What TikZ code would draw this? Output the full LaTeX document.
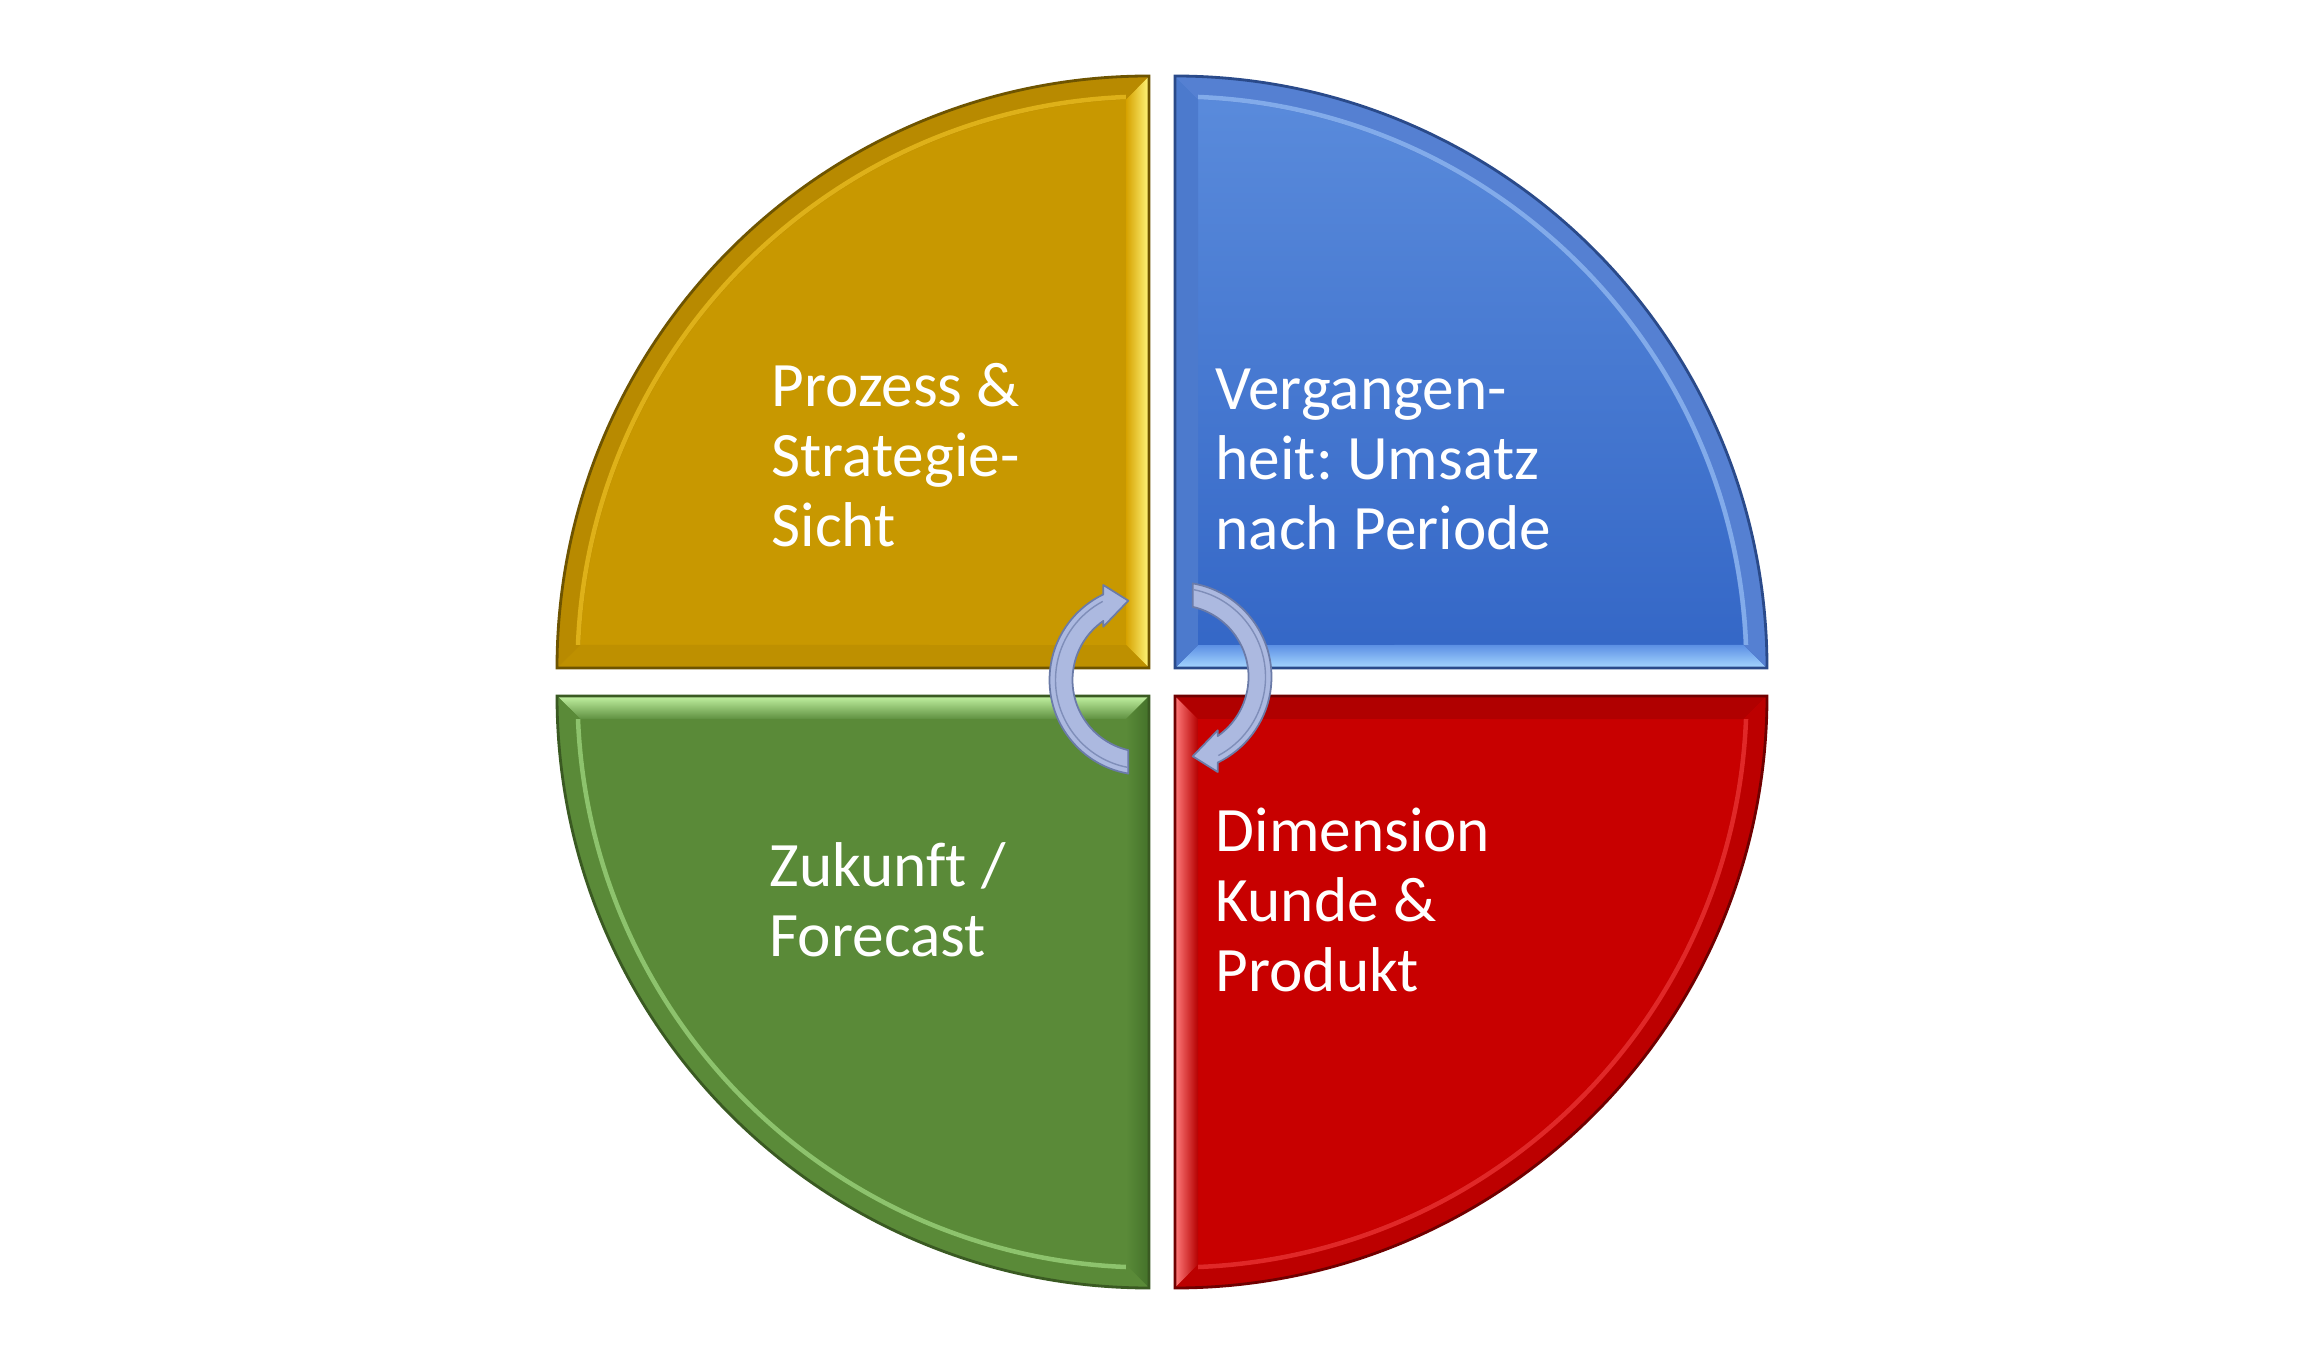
\documentclass[tikz,border=0pt]{standalone}
\usepackage{fontspec}
\setmainfont{Carlito}[Ligatures=NoCommon]
\usepackage{xcolor}
\usepackage{tikz}
\frenchspacing

\definecolor{yelFace}{HTML}{C89800}
\definecolor{bluTop}{HTML}{5B8CDC}
\definecolor{bluBot}{HTML}{3366C6}
\definecolor{redFace}{HTML}{C80000}
\definecolor{grnFace}{HTML}{5A8A38}
\definecolor{cycFill}{HTML}{ACB9E0}
\definecolor{cycLine}{HTML}{6B7BA8}

% quarter discs: radius, bevel, inner radius, mitre angle, inner corner
\newcommand\qR{5.92}
\newcommand\qr{5.69}
\newcommand\qh{5.715}
\newcommand\qd{2.32}
\newcommand\qc{0.325}

\tikzstyle{yelface}=[fill=yelFace]
\tikzstyle{yeledgeA}=[left color={rgb,255:red,214;green,162;blue,0}, right color={rgb,255:red,255;green,245;blue,122}]
\tikzstyle{yeledgeB}=[fill={rgb,255:red,190;green,144;blue,0}]
\tikzstyle{yelarc}=[fill={rgb,255:red,184;green,138;blue,0}]
\tikzstyle{yelrim}=[draw={rgb,255:red,255;green,210;blue,46}, line width=.045cm, opacity=.55]
\tikzstyle{yelline}=[draw={rgb,255:red,110;green,84;blue,0}, line width=.8pt]

\tikzstyle{bluface}=[top color=bluTop, bottom color=bluBot]
\tikzstyle{bluedgeA}=[top color={rgb,255:red,92;green,144;blue,228}, bottom color={rgb,255:red,166;green,214;blue,255}]
\tikzstyle{bluedgeB}=[fill={rgb,255:red,76;green,122;blue,205}]
\tikzstyle{bluarc}=[fill={rgb,255:red,85;green,128;blue,210}]
\tikzstyle{blurim}=[draw={rgb,255:red,168;green,208;blue,255}, line width=.045cm, opacity=.55]
\tikzstyle{bluline}=[draw={rgb,255:red,42;green,74;blue,138}, line width=.8pt]

\tikzstyle{redface}=[fill=redFace]
\tikzstyle{rededgeA}=[left color={rgb,255:red,255;green,122;blue,122}, right color={rgb,255:red,181;green,0;blue,0}]
\tikzstyle{rededgeB}=[fill={rgb,255:red,176;green,0;blue,0}]
\tikzstyle{redarc}=[fill={rgb,255:red,188;green,0;blue,0}]
\tikzstyle{redrim}=[draw={rgb,255:red,255;green,74;blue,74}, line width=.045cm, opacity=.55]
\tikzstyle{redline}=[draw={rgb,255:red,112;green,0;blue,0}, line width=.8pt]

\tikzstyle{grnface}=[fill=grnFace]
\tikzstyle{grnedgeA}=[top color={rgb,255:red,194;green,242;blue,162}, bottom color={rgb,255:red,95;green,144;blue,64}]
\tikzstyle{grnedgeB}=[left color=grnFace, right color={rgb,255:red,68;green,114;blue,42}]
\tikzstyle{grnarc}=[fill=grnFace]
\tikzstyle{grnrim}=[draw={rgb,255:red,184;green,242;blue,154}, line width=.045cm, opacity=.55]
\tikzstyle{grnline}=[draw={rgb,255:red,58;green,90;blue,34}, line width=.8pt]

\tikzstyle{lbl}=[text=white, font=\fontsize{18}{19.8}\selectfont, inner sep=0pt, anchor=base west]
\tikzstyle{cyc}=[fill=cycFill, draw=cycLine, line width=.5pt, line join=round]
\tikzstyle{cycridge}=[draw=cycLine!70!cycFill, line width=.4pt]

\newcommand\lines[1]{\begin{tabular}[t]{@{}l@{}}#1\end{tabular}}
% #1 corner, #2 start angle, #3 style prefix
\newcommand\quadrant[3]{%
  \begin{scope}[shift={(#1)}]
    \path[#3face] (0,0) -- (#2:\qR) arc[start angle=#2, end angle=#2+90, radius=\qR] -- cycle;
    \path[#3edgeA] (0,0) -- (#2:\qR) -- (#2+\qd:\qr) -- (#2+45:\qc) -- cycle;
    \path[#3edgeB] (0,0) -- (#2+90:\qR) -- (#2+90-\qd:\qr) -- (#2+45:\qc) -- cycle;
    \path[#3arc] (#2:\qR) arc[start angle=#2, end angle=#2+90, radius=\qR]
      -- (#2+90-\qd:\qr) arc[start angle=#2+90-\qd, end angle=#2+\qd, radius=\qr] -- cycle;
    \draw[#3rim] (#2+\qd:\qh) arc[start angle=#2+\qd, end angle=#2+90-\qd, radius=\qh];
    \draw[#3line] (0,0) -- (#2:\qR) arc[start angle=#2, end angle=#2+90, radius=\qR] -- cycle;
  \end{scope}}

\begin{document}
\begin{tikzpicture}
	\useasboundingbox (0,0) rectangle (23.24,13.65);
	\fill[white] (0,0) rectangle (23.24,13.65);

	\coordinate (yel) at (11.49,6.97);
	\coordinate (blu) at (11.75,6.97);
	\coordinate (grn) at (11.49,6.69);
	\coordinate (red) at (11.75,6.69);
	\coordinate (cycL) at (11.445,6.85);
	\coordinate (cycR) at (11.765,6.88);

	\quadrant{yel}{90}{yel}
	\quadrant{blu}{0}{blu}
	\quadrant{red}{270}{red}
	\quadrant{grn}{180}{grn}

	\node[lbl] (prozess)   at (7.71,9.58)  {\lines{Prozess \&\\Strategie-\\Sicht}};
	\node[lbl] (vergangen) at (12.15,9.55) {\lines{Vergangen-\\heit: Umsatz\\nach Periode}};
	\node[lbl] (zukunft)   at (7.69,4.78)  {\lines{Zukunft /\\Forecast}};
	\node[lbl] (dimension) at (12.15,5.13) {\lines{Dimension\\Kunde \&\\Produkt}};

	\foreach \c/\r in {cycL/0, cycR/180} {
	  \begin{scope}[shift={(\c)}]
	    \path[cyc] (\r+260.2:0.95) arc[start angle=\r+260.2, end angle=\r+115.7, radius=0.95]
	      -- (\r+113.45:1.0355) -- (\r+101.55:0.8094) -- (\r+127.7:0.6737)
	      -- (\r+124.9:0.72) arc[start angle=\r+124.9, end angle=\r+257, radius=0.72] -- cycle;
	    \draw[cycridge] (\r+259:0.89) arc[start angle=\r+259, end angle=\r+118, radius=0.89];
	  \end{scope}
	}
\end{tikzpicture}
\end{document}
